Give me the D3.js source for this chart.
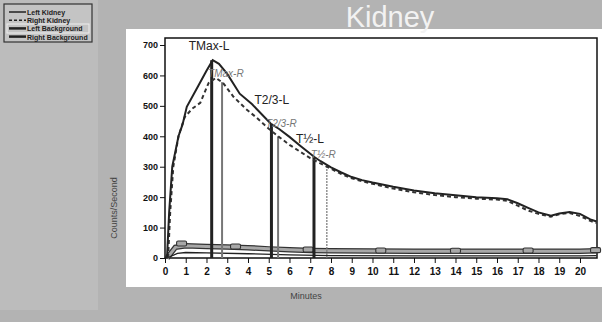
<!DOCTYPE html>
<html>
<head>
<meta charset="utf-8">
<script src="https://d3js.org/d3.v7.min.js"></script>
<style>
  body { margin: 0; background: #b3b3b3; overflow: hidden; }
  text { font-family: "Liberation Sans", Arial, sans-serif; }
</style>
</head>
<body>
<script>
// renogram curves, counts/second vs minutes
var leftTime   = [0, 0.1, 0.2, 0.35, 0.5, 0.65, 0.85, 1.05, 1.6, 2.0, 2.3, 2.6, 3.0, 3.6, 4.2, 5.1, 5.5, 6.0, 6.5, 7.2, 7.5, 8.0, 8.5, 9.0, 9.5, 10, 11, 12, 13, 14, 15, 16, 16.5, 17, 17.5, 18, 18.6, 19, 19.5, 20, 20.5, 20.8]
var leftCounts = [0, 5, 150, 300, 350, 400, 440, 497, 565, 615, 650, 638, 605, 540, 505, 441, 424, 398, 370, 332, 318, 298, 281, 266, 256, 248, 234, 222, 213, 206, 200, 196, 193, 180, 165, 150, 139, 146, 151, 145, 127, 120]
var rightTime   = [0.15, 0.25, 0.4, 0.65, 0.95, 1.3, 1.7, 2.1, 2.45, 2.8, 3.3, 3.9, 4.4, 5.0, 5.45, 6.0, 6.5, 7.0, 7.8, 8.5, 9.0, 9.5, 10, 11, 12, 13, 14, 15, 16, 16.5, 17, 17.5, 18, 18.6, 19, 19.5, 20, 20.5, 20.8]
var rightCounts = [0, 150, 300, 400, 463, 490, 510, 575, 592, 575, 530, 490, 462, 425, 400, 372, 350, 328, 300, 276, 262, 252, 244, 228, 216, 207, 200, 195, 192, 188, 172, 156, 145, 136, 144, 148, 138, 122, 115]
var leftBgTime   = [0.1, 0.5, 1, 2, 3, 4, 5, 6, 7, 8, 10, 12, 14, 16, 18, 20, 20.8]
var leftBgCounts = [0, 35, 40, 38, 36, 34, 30, 27, 25, 24, 23, 22, 22, 22, 22, 22, 24]
var rightBgTime   = [0.1, 0.6, 1, 2, 4, 6, 8, 12, 16, 20, 20.8]
var rightBgCounts = [0, 15, 18, 17, 14, 10, 8, 7, 7, 7, 8]
var bumpTime   = [0.8, 3.4, 6.9, 10.4, 14.0, 17.5, 20.75]
var bumpCounts = [56, 46, 36, 33, 32, 33, 34]

var eventNames  = ["TMax-L", "TMax-R", "T2/3-L", "T2/3-R", "T½-L", "T½-R"]
var eventTimes  = [2.25, 2.75, 5.13, 5.45, 7.18, 7.8]
var eventCounts = [650, 578, 441, 400, 332, 300]

var legendNames = ["Left Kidney", "Right Kidney", "Left Background", "Right Background"]
var xTicks = d3.range(0, 21)
var yTicks = [0, 100, 200, 300, 400, 500, 600, 700]

var svg = d3.select("body").append("svg")
  .attr("width", 602)
  .attr("height", 322)

svg.append("rect").attr("width", 602).attr("height", 322).attr("fill", "#b3b3b3")
// left side panel
svg.append("rect").attr("x", 0).attr("y", 0).attr("width", 98).attr("height", 310).attr("fill", "#bcbcbc")
// white plotting sheet
svg.append("rect").attr("x", 126).attr("y", 29).attr("width", 476).attr("height", 258).attr("fill", "#ffffff")

svg.append("text")
  .attr("x", 390).attr("y", 27)
  .attr("text-anchor", "middle")
  .attr("font-size", "29px")
  .attr("fill", "#f2f2f2")
  .text("Kidney")

var x = d3.scaleLinear().domain([0, 20.82]).range([165, 597])
var y = d3.scaleLinear().domain([0, 700]).range([258, 45])

// frame
svg.append("rect")
  .attr("x", x(0)).attr("y", y(723))
  .attr("width", x(20.82) - x(0)).attr("height", y(0) - y(723))
  .attr("fill", "none").attr("stroke", "#111").attr("stroke-width", 1.5)

var yAxis = svg.append("g")
  .attr("transform", "translate(" + x(0) + ",0)")
  .call(d3.axisLeft(y).tickValues(yTicks).tickSize(5).tickPadding(2))
yAxis.select(".domain").remove()
yAxis.selectAll("text").attr("font-size", "9px").attr("font-weight", "bold").attr("fill", "#111")
  .style("font-family", "'Liberation Sans', Arial, sans-serif")
yAxis.selectAll("line").attr("stroke", "#111")

var xAxis = svg.append("g")
  .attr("transform", "translate(0," + y(0) + ")")
  .call(d3.axisBottom(x).tickValues(xTicks).tickSize(5).tickPadding(5))
xAxis.select(".domain").remove()
xAxis.selectAll("text").attr("font-size", "10px").attr("font-weight", "bold").attr("fill", "#111")
  .style("font-family", "'Liberation Sans', Arial, sans-serif")
xAxis.selectAll("line").attr("stroke", "#111")

svg.append("text")
  .attr("transform", "translate(117,208) rotate(-90)")
  .attr("text-anchor", "middle")
  .attr("font-size", "9px")
  .attr("fill", "#444")
  .text("Counts/Second")

svg.append("text")
  .attr("x", 306).attr("y", 299)
  .attr("text-anchor", "middle")
  .attr("font-size", "9px")
  .attr("fill", "#444")
  .text("Minutes")

var line = d3.line().x(function(d){return x(d[0])}).y(function(d){return y(d[1])})
function zip(a, b){ return a.map(function(v, i){ return [v, b[i]] }) }

// backgrounds
svg.append("path").datum(zip(leftBgTime, leftBgCounts))
  .attr("d", line).attr("fill", "none").attr("stroke", "#333").attr("stroke-width", 5.5)
svg.append("path").datum(zip(leftBgTime, leftBgCounts))
  .attr("d", line).attr("fill", "none").attr("stroke", "#a8a8a8").attr("stroke-width", 3)
svg.append("path").datum(zip(rightBgTime, rightBgCounts))
  .attr("d", line).attr("fill", "none").attr("stroke", "#222").attr("stroke-width", 1.3)

svg.selectAll(".bump")
  .data(zip(bumpTime, bumpCounts))
  .enter().append("rect")
  .classed("bump", true)
  .attr("x", function(d){return x(d[0]) - 5})
  .attr("y", function(d){return y(d[1])})
  .attr("width", 10)
  .attr("height", 5)
  .attr("rx", 1.5)
  .attr("fill", "#a8a8a8").attr("stroke", "#333").attr("stroke-width", 1.1)

// event verticals
var events = eventNames.map(function(n, i){ return {name: n, t: eventTimes[i], c: eventCounts[i], right: n.slice(-1) == "R"} })
svg.selectAll(".evline")
  .data(events)
  .enter().append("line")
  .classed("evline", true)
  .attr("x1", function(d){return x(d.t)}).attr("x2", function(d){return x(d.t)})
  .attr("y1", y(0)).attr("y2", function(d){return y(d.c)})
  .attr("stroke", function(d){return d.right ? "#777" : "#222"})
  .attr("stroke-width", function(d){return d.right ? (d.name == "T½-R" ? 1.2 : 2) : 3})
  .attr("stroke-dasharray", function(d){return d.name == "T½-R" ? "2,1" : null})

// kidney curves
svg.append("path").datum(zip(rightTime, rightCounts))
  .attr("d", line).attr("fill", "none").attr("stroke", "#333")
  .attr("stroke-width", 2).attr("stroke-dasharray", "4,3")
svg.append("path").datum(zip(leftTime, leftCounts))
  .attr("d", line).attr("fill", "none").attr("stroke", "#222").attr("stroke-width", 2)

// event labels
var labelOffsets = [[-23, -10], [-14, -5], [-17, -20], [-12, -9], [-18, -14], [-16, -9]]
svg.selectAll(".evlabel")
  .data(events)
  .enter().append("text")
  .classed("evlabel", true)
  .attr("x", function(d, i){return x(d.t) + labelOffsets[i][0]})
  .attr("y", function(d, i){return y(d.c) + labelOffsets[i][1]})
  .attr("font-size", function(d){return d.right ? "10px" : "12px"})
  .attr("font-style", function(d){return d.right ? "italic" : "normal"})
  .attr("fill", function(d){return d.right ? "#777" : "#222"})
  .text(function(d){return d.name})

// legend
var legend = svg.append("g").attr("transform", "translate(4,4)")
legend.append("rect").attr("width", 88).attr("height", 38)
  .attr("fill", "#c4c4c4").attr("stroke", "#333").attr("stroke-width", 1.2)
legend.append("rect").attr("x", 3).attr("y", 20).attr("width", 82).attr("height", 9)
  .attr("fill", "none").attr("stroke", "#eee").attr("stroke-width", 1)
var lrows = legend.selectAll(".lrow").data(legendNames).enter().append("g")
  .classed("lrow", true)
  .attr("transform", function(d, i){return "translate(0," + (8 + i * 8.2) + ")"})
lrows.append("line").attr("x1", 5).attr("x2", 22).attr("y1", 0).attr("y2", 0)
  .attr("stroke", "#222")
  .attr("stroke-width", function(d, i){return i < 2 ? 1.5 : 2.5})
  .attr("stroke-dasharray", function(d, i){return i == 1 ? "3,2" : null})
lrows.append("text").attr("x", 23).attr("y", 3)
  .attr("font-size", "7px").attr("font-weight", "bold").attr("fill", "#222")
  .text(function(d){return d})
</script>
</body>
</html>
